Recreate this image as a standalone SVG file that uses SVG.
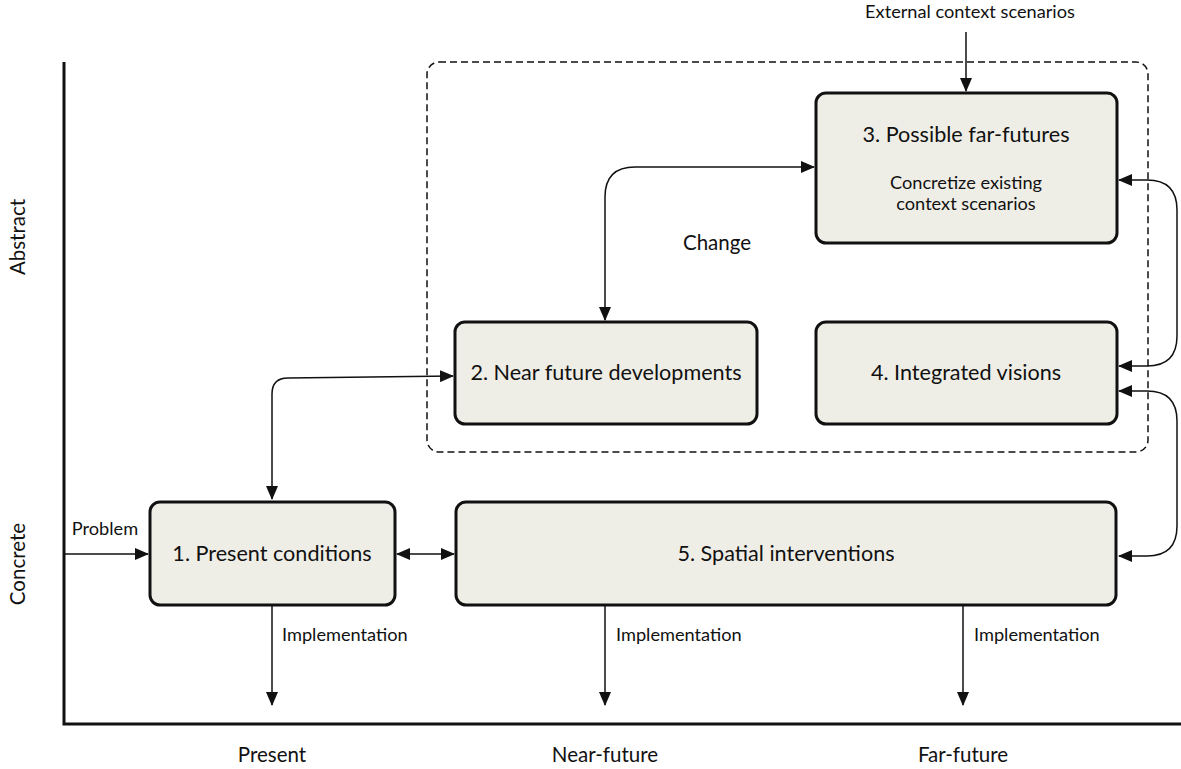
<svg xmlns="http://www.w3.org/2000/svg" width="1181" height="769" viewBox="0 0 1181 769">
<style>
.box{fill:#efeee6;stroke:#111;stroke-width:3}
.t{font-family:Lato,"Liberation Sans",sans-serif;fill:#111;text-anchor:middle}
.big{font-size:21.6px}
.mid{font-size:20.5px}
.sm{font-size:18.2px}
.ln{fill:none;stroke:#111;stroke-width:1.5}
.ax{fill:none;stroke:#111;stroke-width:3}
</style>
<defs>
<marker id="ah" markerWidth="14" markerHeight="12" refX="13" refY="6" orient="auto-start-reverse" markerUnits="userSpaceOnUse">
<path d="M0,0 L14,6 L0,12 Z" fill="#111"/>
</marker>
</defs>
<g id="axes">
<path class="ax" d="M64,62 V724 H1181"/>
<text class="t mid" transform="translate(25,237) rotate(-90)">Abstract</text>
<text class="t mid" transform="translate(25,564) rotate(-90)">Concrete</text>
<text class="t mid" x="272" y="762">Present</text>
<text class="t mid" x="605" y="762">Near-future</text>
<text class="t mid" x="963" y="762">Far-future</text>
</g>
<g id="group-change">
<rect x="427" y="62" width="721" height="390" rx="12" fill="none" stroke="#111" stroke-width="1.5" stroke-dasharray="7,4"/>
<text class="t mid" x="717" y="250">Change</text>
</g>
<g id="n3">
<rect class="box" x="816" y="93" width="301" height="150" rx="10"/>
<text class="t big" x="966" y="142">3. Possible far-futures</text>
<text class="t sm" x="966" y="189">Concretize existing</text>
<text class="t sm" x="966" y="210">context scenarios</text>
</g>
<g id="n2">
<rect class="box" x="455" y="322" width="302" height="102" rx="10"/>
<text class="t big" x="606" y="380">2. Near future developments</text>
</g>
<g id="n4">
<rect class="box" x="816" y="322" width="301" height="102" rx="10"/>
<text class="t big" x="966" y="380">4. Integrated visions</text>
</g>
<g id="n1">
<rect class="box" x="150" y="502" width="245" height="103" rx="10"/>
<text class="t big" x="272" y="561">1. Present conditions</text>
</g>
<g id="n5">
<rect class="box" x="456" y="502" width="660" height="103" rx="10"/>
<text class="t big" x="786" y="561">5. Spatial interventions</text>
</g>
<g id="connectors">
<text class="t sm" x="970" y="18">External context scenarios</text>
<path class="ln" d="M966,32 V91" marker-end="url(#ah)"/>
<path class="ln" d="M605,320 V197 Q605,167 635,167 H814" marker-start="url(#ah)" marker-end="url(#ah)"/>
<path class="ln" d="M272,499 V394 Q272,378 288,378 L453,376" marker-start="url(#ah)" marker-end="url(#ah)"/>
<path class="ln" d="M1119,180 H1147 Q1177,180 1177,210 V336 Q1177,366 1147,366 H1119" marker-start="url(#ah)" marker-end="url(#ah)"/>
<path class="ln" d="M1119,391 H1147 Q1177,391 1177,421 V526 Q1177,556 1147,556 H1119" marker-start="url(#ah)" marker-end="url(#ah)"/>
<path class="ln" d="M397,554 H454" marker-start="url(#ah)" marker-end="url(#ah)"/>
<path class="ln" d="M64,554 H148" marker-end="url(#ah)"/>
<text class="t sm" x="105" y="535">Problem</text>
<path class="ln" d="M272,605 V705" marker-end="url(#ah)"/>
<path class="ln" d="M605,605 V705" marker-end="url(#ah)"/>
<path class="ln" d="M963,605 V705" marker-end="url(#ah)"/>
<text class="t sm" x="282" y="641" style="text-anchor:start">Implementation</text>
<text class="t sm" x="616" y="641" style="text-anchor:start">Implementation</text>
<text class="t sm" x="974" y="641" style="text-anchor:start">Implementation</text>
</g>
</svg>
